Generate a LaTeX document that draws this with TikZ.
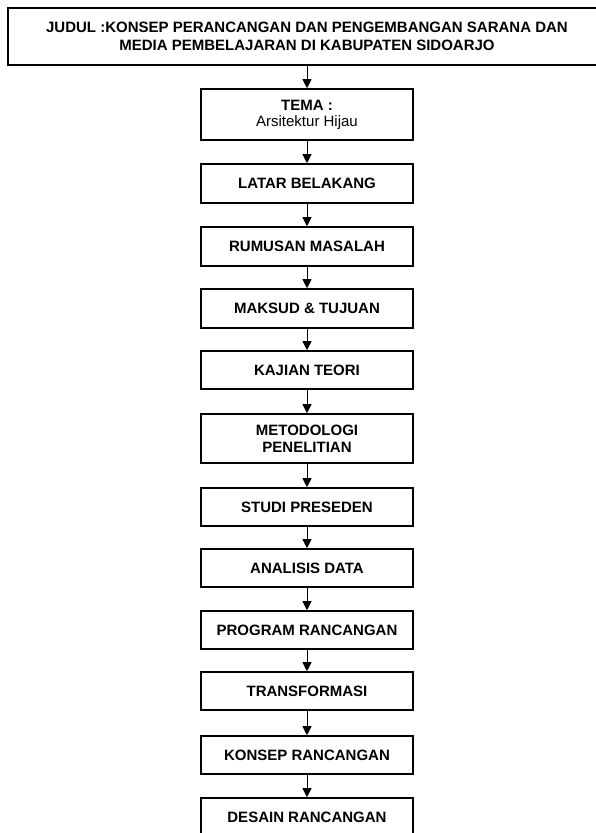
\documentclass[tikz,border=0pt]{standalone}
\usepackage{fontspec}
\setmainfont{Liberation Sans}
\usetikzlibrary{arrows.meta}
\begin{document}
\begin{tikzpicture}[x=1pt,y=-1pt,
  stepbox/.style={draw=black, line width=1.6pt, minimum width=212pt, align=center,
    inner sep=0pt, font=\fontsize{15}{17}\selectfont\bfseries},
  titlebox/.style={draw=black, line width=2.4pt, minimum width=598pt, minimum height=57pt,
    align=center, inner sep=0pt, font=\fontsize{15}{17.5}\selectfont\bfseries},
  flow/.style={line width=0.9pt, -{Triangle[length=9pt,width=9pt]}}]
\useasboundingbox (0,0) rectangle (595,833);
\fill[white] (0,0) rectangle (595,833);
\node[titlebox] (judul) at (307,36.5) {JUDUL :KONSEP PERANCANGAN DAN PENGEMBANGAN SARANA DAN\\MEDIA PEMBELAJARAN DI KABUPATEN SIDOARJO};
\node[stepbox, minimum height=51pt] (tema) at (307,114.5) {TEMA :\\[-1pt]{\mdseries Arsitektur Hijau}};
\node[stepbox, minimum height=39pt] (latar) at (307,183.5) {LATAR BELAKANG};
\node[stepbox, minimum height=39pt] (rumusan) at (307,246.5) {RUMUSAN MASALAH};
\node[stepbox, minimum height=39pt] (maksud) at (307,308.5) {MAKSUD \& TUJUAN};
\node[stepbox, minimum height=38pt] (kajian) at (307,370) {KAJIAN TEORI};
\node[stepbox, minimum height=49pt] (metodologi) at (307,438.5) {METODOLOGI\\PENELITIAN};
\node[stepbox, minimum height=38pt] (studi) at (307,507) {STUDI PRESEDEN};
\node[stepbox, minimum height=38pt] (analisis) at (307,568) {ANALISIS DATA};
\node[stepbox, minimum height=38pt] (program) at (307,630) {PROGRAM RANCANGAN};
\node[stepbox, minimum height=38pt] (transformasi) at (307,691) {TRANSFORMASI};
\node[stepbox, minimum height=38pt] (konsep) at (307,755) {KONSEP RANCANGAN};
\node[stepbox, minimum height=38pt] (desain) at (307,817) {DESAIN RANCANGAN};
\foreach \a/\b in {judul/tema, tema/latar, latar/rumusan, rumusan/maksud, maksud/kajian,
  kajian/metodologi, metodologi/studi, studi/analisis, analisis/program,
  program/transformasi, transformasi/konsep, konsep/desain}
  \draw[flow] (\a.south) -- (\b.north);
\end{tikzpicture}
\end{document}
